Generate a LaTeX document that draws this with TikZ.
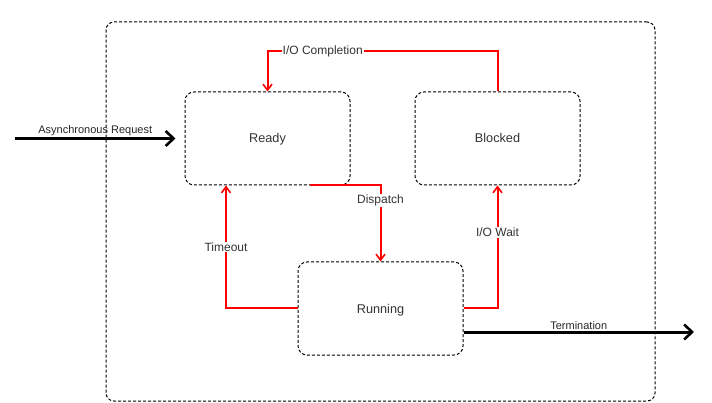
\documentclass[tikz,border=0pt]{standalone}
\usepackage{fontspec}
\setmainfont{Liberation Sans}
\usetikzlibrary{arrows.meta}
\tikzset{
  statebox/.style={draw, line width=1pt, dash pattern=on 3pt off 2pt, rounded corners=9pt,
    minimum width=165pt, minimum height=93pt, inner sep=0pt, text=black!80,
    text height=9pt, text depth=0pt, font=\fontsize{12.7}{14}\selectfont},
  trans/.style={red, line width=2pt, -{Straight Barb[length=6pt,width=9pt,line width=1.6pt]}},
  flow/.style={black, line width=3pt, -{Straight Barb[length=8pt,width=15pt,line width=2.6pt]}},
  lbl/.style={fill=white, inner sep=1pt, text=black!80, font=\fontsize{12}{13}\selectfont},
  flowlbl/.style={above, inner sep=1pt, text=black!85, font=\fontsize{11}{12}\selectfont},
}
\begin{document}
\begin{tikzpicture}[x=1pt, y=-1pt]
  \useasboundingbox (0,0) rectangle (712,403);
  % System border
  \node[statebox, rounded corners=8pt, minimum width=549pt, minimum height=379pt] (sys) at (380.5,211.5) {};

  % States
  \node[statebox] (rdy) at (267.5,138.5) {Ready};
  \node[statebox] (blk) at (497.5,138.5) {Blocked};
  \node[statebox] (run) at (380.5,308.5) {Running};

  \coordinate (cmp) at (0,51);
  \coordinate (src) at (15,138.5);
  \coordinate (sink) at (694,332);

  % Transitions
  \draw[trans] (blk.north) -- (blk.north |- cmp) -- node[lbl, pos=0.76] {I/O Completion} (rdy.north |- cmp) -- (rdy.north);
  \draw[trans] ([xshift=42.5pt]rdy.south) -| node[lbl, pos=0.6] {Dispatch} (run.north);
  \draw[trans] (run.west) -| node[lbl, pos=0.75] {Timeout} ([xshift=-41.5pt]rdy.south);
  \draw[trans] (run.east) -| node[lbl, pos=0.81] {I/O Wait} (blk.south);

  % External arrows
  \draw[flow] (src) -- node[flowlbl] {Asynchronous Request} ([xshift=-9pt]rdy.west);
  \draw[flow] ([yshift=-23.5pt]run.east) -- node[flowlbl] {Termination} (sink);
\end{tikzpicture}
\end{document}
